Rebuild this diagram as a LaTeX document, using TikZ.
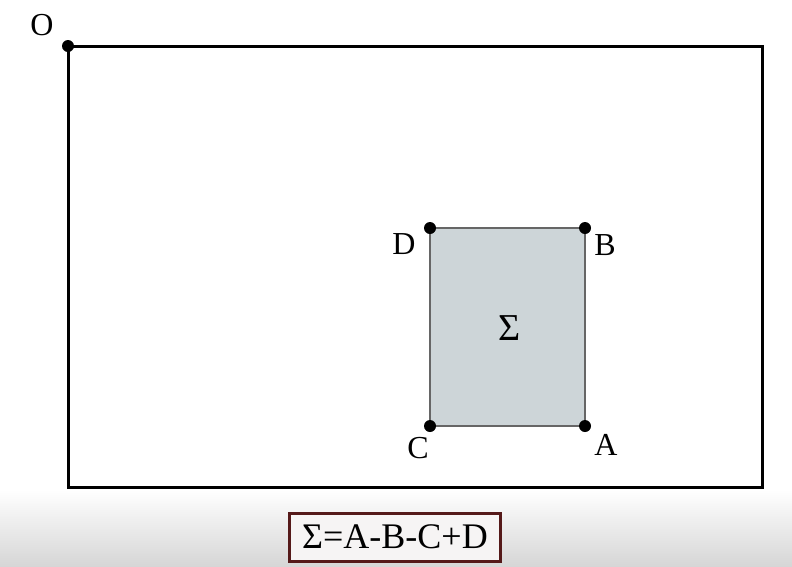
\documentclass[tikz,border=0pt]{standalone}
\usepackage{fontspec}
\setmainfont{Liberation Serif}
\begin{document}
\begin{tikzpicture}[x=1pt,y=-1pt,
  dot/.style={circle,fill=black,inner sep=0pt,minimum size=12pt},
  lbl/.style={font=\fontsize{32}{34}\selectfont,inner sep=0pt},
  outerrect/.style={draw=black,line width=3pt},
  innerrect/.style={draw=gray!80!black,line width=1.5pt,fill={rgb,255:red,205;green,213;blue,216}},
  formula/.style={draw={rgb,255:red,85;green,25;blue,25},line width=3pt,fill={rgb,255:red,246;green,244;blue,244},font=\fontsize{36}{38}\selectfont,inner sep=0pt,minimum width=211pt,minimum height=48pt}]
\useasboundingbox (0,0) rectangle (792,566);
\fill[white] (0,0) rectangle (792,566);
\shade[top color=white,bottom color={rgb,255:red,214;green,214;blue,214}] (0,490) rectangle (792,566);
% outer frame
\coordinate (o) at (68,46);
\coordinate (oe) at (762,487);
\draw[outerrect] (o) rectangle (oe);
% inner region
\coordinate (cD) at (430,228);
\coordinate (cA) at (585,426);
\draw[innerrect] (cD) rectangle (cA);
\node[dot] (O) at (68,46) {};
\node[dot] (D) at (430,228) {};
\node[dot] (B) at (585,228) {};
\node[dot] (C) at (430,426) {};
\node[dot] (A) at (585,426) {};
\node[lbl] (lO) at (42,25) {O};
\node[lbl] (lD) at (404,244) {D};
\node[lbl] (lB) at (605,245) {B};
\node[lbl] (lC) at (418,448) {C};
\node[lbl] (lA) at (606,445) {A};
\node[lbl,font=\fontsize{38}{40}\selectfont] (sig) at (510,328) {Σ};
\node[formula] (f) at (395,537) {Σ=A-B-C+D};
\end{tikzpicture}
\end{document}
